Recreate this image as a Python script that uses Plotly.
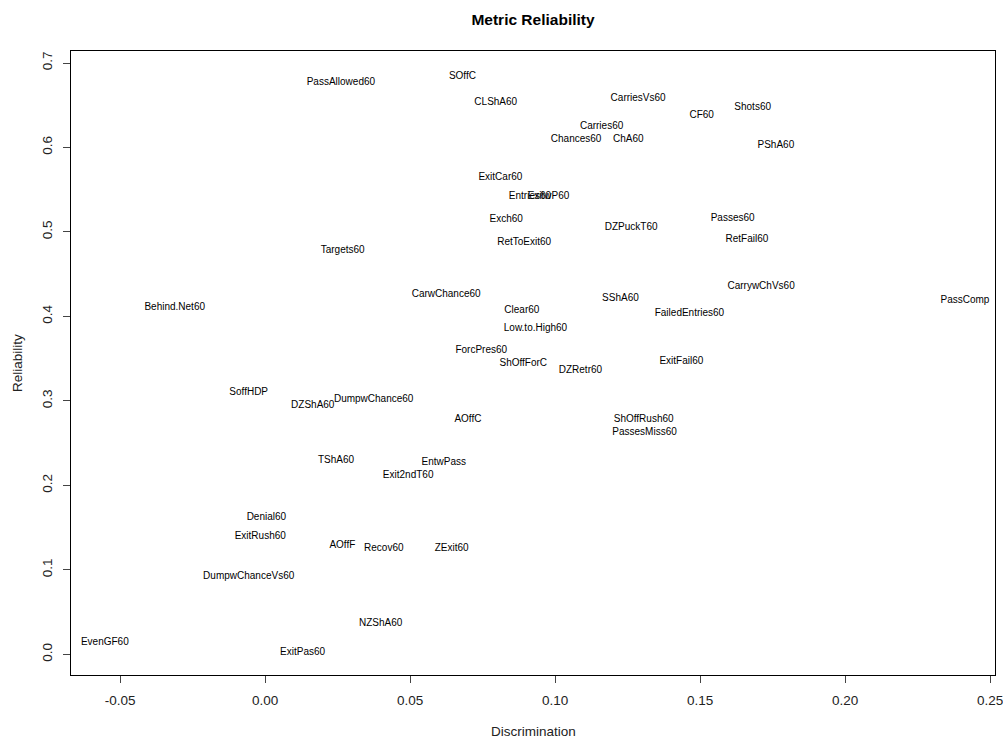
import plotly.graph_objects as go

# Metric names, discrimination (x) and reliability (y)
metrics = [
    "PassAllowed60", "SOffC", "CLShA60", "Carries60", "Chances60", "ChA60",
    "CarriesVs60", "CF60", "Shots60", "PShA60", "ExitCar60", "Entries60",
    "ExitwP60", "Exch60", "RetToExit60", "DZPuckT60", "Passes60", "RetFail60",
    "Targets60", "CarwChance60", "Behind.Net60", "ForcPres60", "SoffHDP",
    "DZShA60", "DumpwChance60", "AOffC", "Clear60", "Low.to.High60",
    "ShOffForC", "DZRetr60", "SShA60", "FailedEntries60", "ExitFail60",
    "ShOffRush60", "PassesMiss60", "CarrywChVs60", "PassComp", "TShA60",
    "EntwPass", "Exit2ndT60", "Denial60", "ExitRush60", "AOffF", "Recov60",
    "ZExit60", "DumpwChanceVs60", "NZShA60", "EvenGF60", "ExitPas60",
]
discrimination = [
    0.0261, 0.0680, 0.0795, 0.1160, 0.1072, 0.1252,
    0.1286, 0.1505, 0.1681, 0.1761, 0.0811, 0.0913,
    0.0977, 0.0831, 0.0893, 0.1262, 0.1612, 0.1661,
    0.0267, 0.0624, -0.0312, 0.0745, -0.0057,
    0.0164, 0.0374, 0.0699, 0.0885, 0.0932,
    0.0890, 0.1087, 0.1225, 0.1463, 0.1435,
    0.1305, 0.1308, 0.1710, 0.2413, 0.0244,
    0.0616, 0.0493, 0.0004, -0.0017, 0.0266, 0.0409,
    0.0643, -0.0057, 0.0398, -0.0553, 0.0129,
]
reliability = [
    0.6767, 0.6838, 0.6530, 0.6254, 0.6089, 0.6089,
    0.6577, 0.6376, 0.6476, 0.6029, 0.5647, 0.5417,
    0.5417, 0.5150, 0.4873, 0.5050, 0.5162, 0.4913,
    0.4786, 0.4254, 0.4108, 0.3591, 0.3102,
    0.2940, 0.3022, 0.2774, 0.4068, 0.3859,
    0.3437, 0.3354, 0.4210, 0.4029, 0.3464,
    0.2782, 0.2623, 0.4360, 0.4183, 0.2300,
    0.2268, 0.2111, 0.1625, 0.1400, 0.1286, 0.1255,
    0.1255, 0.0927, 0.0362, 0.0137, 0.0019,
]

x_ticks = [-0.05, 0.00, 0.05, 0.10, 0.15, 0.20, 0.25]
x_tick_labels = ["-0.05", "0.00", "0.05", "0.10", "0.15", "0.20", "0.25"]
y_ticks = [0.0, 0.1, 0.2, 0.3, 0.4, 0.5, 0.6, 0.7]
y_tick_labels = ["0.0", "0.1", "0.2", "0.3", "0.4", "0.5", "0.6", "0.7"]

FONT = "Liberation Sans, Arial, sans-serif"
W, H = 1003, 741
ML, MR, MT, MB = 71, 8, 51, 66

fig = go.Figure(
    go.Scatter(
        x=discrimination,
        y=reliability,
        mode="text",
        text=metrics,
        textposition="middle center",
        textfont=dict(family=FONT, size=10, color="#000000"),
        hoverinfo="text",
        showlegend=False,
    )
)

axis_common = dict(
    showgrid=False,
    zeroline=False,
    showline=True,
    mirror=True,
    linecolor="#000000",
    linewidth=1,
    ticks="outside",
    ticklen=7,
    tickwidth=1,
    tickcolor="#444444",
    automargin=False,
    ticklabeloverflow="allow",
    tickfont=dict(family=FONT, size=13.5, color="#222222"),
)

fig.update_layout(
    width=W,
    height=H,
    paper_bgcolor="white",
    plot_bgcolor="white",
    margin=dict(l=ML, r=MR, t=MT, b=MB),
    title=dict(
        text="<b>Metric Reliability</b>",
        x=(ML + W - MR) / 2 / W,
        xanchor="center",
        y=1 - 19.5 / H,
        yanchor="middle",
        font=dict(family=FONT, size=15.5, color="#000000"),
    ),
    xaxis=dict(
        range=[-0.06697, 0.25166],
        tickvals=x_ticks,
        ticktext=x_tick_labels,
        ticklabelstandoff=6,
        **axis_common,
    ),
    yaxis=dict(
        range=[-0.0245, 0.7142],
        tickvals=y_ticks,
        ticktext=y_tick_labels,
        tickangle=-90,
        ticklabelstandoff=6,
        **axis_common,
    ),
    annotations=[
        dict(
            text="Discrimination",
            xref="paper", yref="paper",
            x=0.5, y=-(732 - (H - MB)) / (H - MT - MB),
            xanchor="center", yanchor="middle",
            showarrow=False,
            font=dict(family=FONT, size=13.5, color="#222222"),
        ),
        dict(
            text="Reliability",
            xref="paper", yref="paper",
            x=-(ML - 17) / (W - ML - MR), y=0.5,
            xanchor="center", yanchor="middle",
            textangle=-90,
            showarrow=False,
            font=dict(family=FONT, size=13.5, color="#222222"),
        ),
    ],
)

fig.write_html("out.html")
